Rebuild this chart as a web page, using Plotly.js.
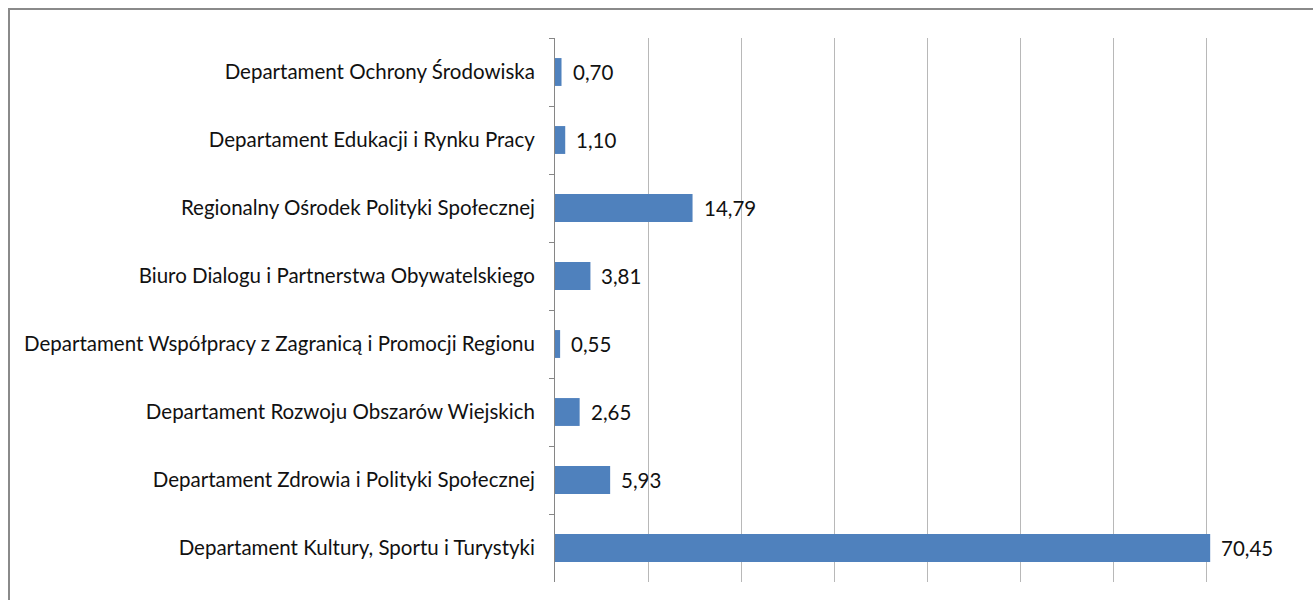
<!DOCTYPE html>
<html>
<head>
<meta charset="utf-8">
<script src="https://cdn.plot.ly/plotly-3.0.1.min.js"></script>
<style>html,body{margin:0;padding:0;background:#fff;}#chart{width:1313px;height:600px;}</style>
</head>
<body>
<div id="chart"></div>
<script>
const categories = [
  "Departament Ochrony Środowiska",
  "Departament Edukacji i Rynku Pracy",
  "Regionalny Ośrodek Polityki Społecznej",
  "Biuro Dialogu i Partnerstwa Obywatelskiego",
  "Departament Współpracy z Zagranicą i Promocji Regionu",
  "Departament Rozwoju Obszarów Wiejskich",
  "Departament Zdrowia i Polityki Społecznej",
  "Departament Kultury, Sportu i Turystyki"
];
const values = [0.70, 1.10, 14.79, 3.81, 0.55, 2.65, 5.93, 70.45];
const xTicks = [0, 10, 20, 30, 40, 50, 60, 70, 80];

const W = 1313, H = 600;
const L = 555, R = 14, T = 38, B = 18;
const pw = W - L - R, ph = H - T - B;
const fontFam = "Lato, 'Open Sans', sans-serif";
const px2x = p => (p - L) / pw;
const px2y = p => (H - B - p) / ph;

const trace = {
  type: 'bar',
  orientation: 'h',
  x: values,
  y: categories,
  marker: {color: '#4F81BD'},
  hoverinfo: 'skip'
};

const annotations = values.map((v, i) => ({
  x: v, y: categories[i], xref: 'x', yref: 'y',
  text: v.toFixed(2).replace('.', ','),
  showarrow: false, xanchor: 'left', xshift: 9,
  font: {family: fontFam, size: 20.5, color: '#111'}
}));

const layout = {
  width: W, height: H,
  margin: {l: L, r: R, t: T, b: B, pad: 0},
  paper_bgcolor: '#fff', plot_bgcolor: '#fff',
  showlegend: false,
  bargap: 0.59,
  xaxis: {
    range: [0, 80], tickvals: xTicks, showticklabels: false,
    showgrid: true, gridcolor: '#b8b8b8', gridwidth: 1,
    zeroline: false, showline: false, ticks: '', fixedrange: true
  },
  yaxis: {
    autorange: 'reversed', type: 'category',
    showline: true, linecolor: '#868686', linewidth: 1,
    ticks: 'outside', tickson: 'boundaries', ticklen: 5, tickcolor: '#868686',
    ticklabelstandoff: 15,
    showgrid: false, zeroline: false,
    tickfont: {family: fontFam, size: 20.5, color: '#111'}
  },
  annotations: annotations,
  shapes: [{
    type: 'path', xref: 'paper', yref: 'paper',
    path: `M ${px2x(9)} ${px2y(620)} L ${px2x(9)} ${px2y(9)} L ${px2x(1330)} ${px2y(9)}`,
    line: {color: '#8a8a8a', width: 2}
  }]
};

Plotly.newPlot('chart', [trace], layout, {displayModeBar: false, staticPlot: true});
</script>
</body>
</html>
